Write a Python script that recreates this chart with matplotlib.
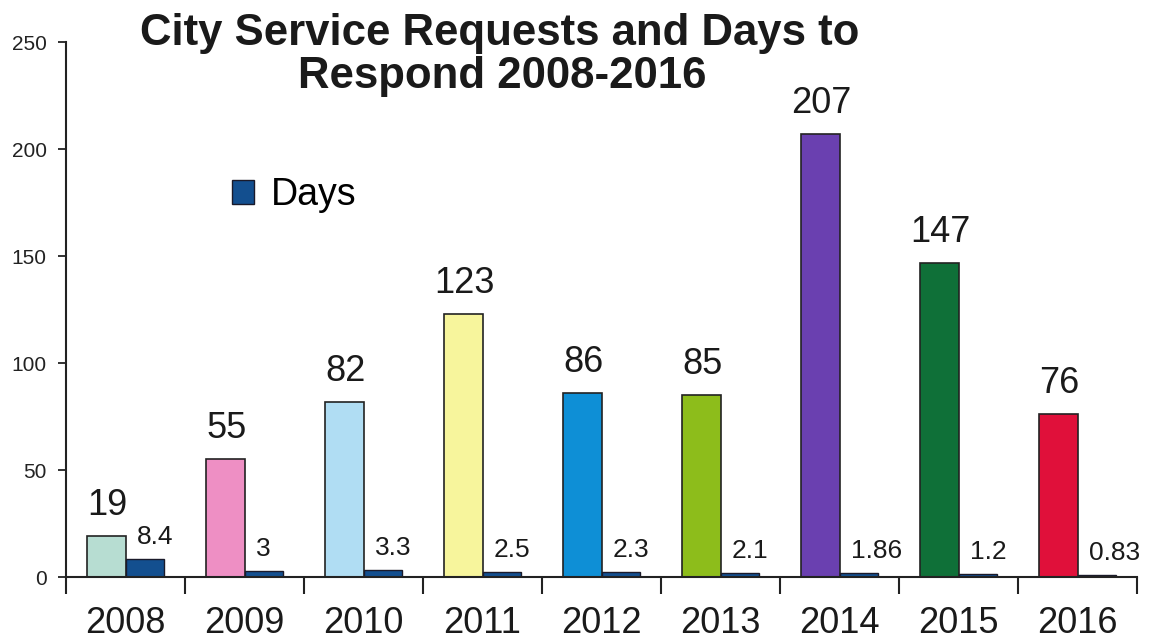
import numpy as np
import matplotlib.pyplot as plt
from matplotlib.patches import Patch

plt.rcParams['font.family'] = ['Liberation Sans', 'DejaVu Sans']

# data
years = ['2008', '2009', '2010', '2011', '2012', '2013', '2014', '2015', '2016']
requests = [19, 55, 82, 123, 86, 85, 207, 147, 76]
days = [8.4, 3, 3.3, 2.5, 2.3, 2.1, 1.86, 1.2, 0.83]
days_labels = ['8.4', '3', '3.3', '2.5', '2.3', '2.1', '1.86', '1.2', '0.83']
year_colors = ['#b7ddd2', '#ee8fc4', '#b0ddf3', '#f7f59c', '#0e8fd6',
               '#8dbd1b', '#6a40b0', '#0f7038', '#e0103a']
days_color = '#134f8f'

fig = plt.figure(figsize=(11.5, 6.4), dpi=100)
ax = fig.add_axes([0.0574, 0.0984, 0.9313, 0.8356])

x = np.arange(len(years))
w = 0.32
ax.bar(x - w / 2, requests, width=w, color=year_colors,
       edgecolor='#222222', linewidth=1.2)
ax.bar(x + w / 2, days, width=w, color=days_color,
       edgecolor='#1a1a2a', linewidth=1.0)

# value labels
for i, v in enumerate(requests):
    ax.annotate(str(v), (x[i] - w / 2, v), xytext=(1, 13),
                textcoords='offset pixels', ha='center', va='bottom',
                fontsize=26, color='#1a1a1a')
for i, v in enumerate(days):
    ax.annotate(days_labels[i], (x[i], v), xytext=(11, 10),
                textcoords='offset pixels', ha='left', va='bottom',
                fontsize=19, color='#1a1a1a', annotation_clip=False)

ax.set_xlim(-0.5, len(years) - 0.5)
ax.set_ylim(0, 250)
ax.set_yticks(np.arange(0, 251, 50))
ax.tick_params(axis='y', labelsize=15, length=6, width=1.3, pad=8,
               colors='#222222')

ax.set_xticks(x)
ax.set_xticklabels(years)
ax.set_xticks(np.arange(-0.5, len(years)), minor=True)
ax.tick_params(axis='x', which='major', length=0, labelsize=26, pad=21,
               colors='#1a1a1a')
ax.tick_params(axis='x', which='minor', length=12, width=1.5, color='#222222')

for s in ['top', 'right']:
    ax.spines[s].set_visible(False)
for s in ['left', 'bottom']:
    ax.spines[s].set_linewidth(1.5)
    ax.spines[s].set_color('#222222')

fig.legend(handles=[Patch(facecolor=days_color, edgecolor='#1a1a2a', label='Days')],
           loc='center left', bbox_to_anchor=(0.202, 0.695),
           frameon=False, fontsize=27, handlelength=0.58, handleheight=0.58,
           handletextpad=0.45, borderpad=0, borderaxespad=0)

# two-line title
fig.text(0.4348, 0.9297, 'City Service Requests and Days to',
         ha='center', va='baseline', fontsize=31.5, fontweight='bold',
         color='#1a1a1a')
fig.text(0.4370, 0.8625, 'Respond 2008-2016',
         ha='center', va='baseline', fontsize=31.5, fontweight='bold',
         color='#1a1a1a')

fig.savefig('out.png', dpi=100)
